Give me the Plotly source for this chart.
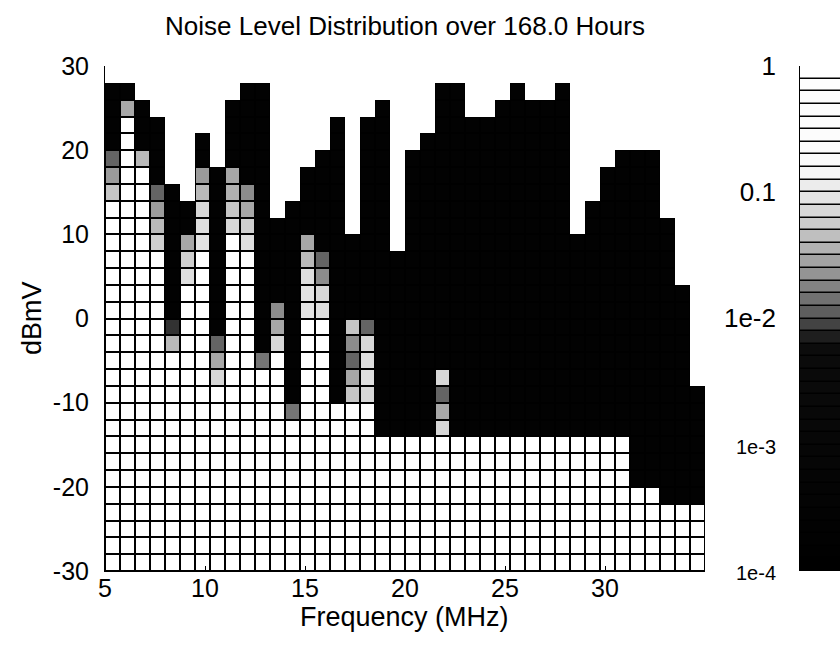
import numpy as np
import plotly.graph_objects as go

# Bins: 0.75 MHz frequency bins from 5 MHz, 2 dB level bins from -30 dBmV
freq_start, freq_step, n_freq = 5.0, 0.75, 40
level_start, level_step, n_level = -30, 2, 30

# Upper edge (dBmV) of the highest level bin observed in each frequency bin
top_db = [28, 28, 26, 24, 16, 14, 22, 18, 26, 28,
          28, 12, 14, 18, 20, 24, 10, 24, 26, 8,
          20, 22, 28, 28, 24, 24, 26, 28, 26, 26,
          28, 10, 14, 18, 20, 20, 20, 12, 4, -8]

# Level (dBmV) down to which the exceedance probability stays rare
floor_db = [20, 26, 20, 16, 0, 10, 18, -2, 18, 16,
            -4, 2, -10, 10, 8, -10, 0, 0, -14, -14,
            -14, -14, -6, -14, -14, -14, -14, -14, -14, -14,
            -14, -14, -14, -14, -14, -20, -20, -22, -22, -22]

# Exceedance probability of the transition bins just below each floor (top to bottom)
transition = [
    [0.012, 0.025, 0.05], [0.03], [0.04], [0.012, 0.025, 0.04, 0.06],
    [0.008, 0.04], [0.03, 0.06, 0.08], [0.025, 0.04, 0.07, 0.08, 0.09],
    [0.012, 0.03, 0.07], [0.03, 0.035, 0.05, 0.07], [0.02, 0.03, 0.06, 0.08],
    [0.015], [0.02, 0.03, 0.07], [0.015], [0.03, 0.04, 0.08, 0.09, 0.09],
    [0.012, 0.02, 0.07, 0.08], [], [0.05, 0.02, 0.012, 0.03, 0.05],
    [0.012, 0.07, 0.08, 0.08, 0.07], [], [], [], [], [0.07, 0.012, 0.03, 0.07],
    [], [], [], [], [], [], [], [], [], [], [], [], [], [], [], [], [],
]
rare_prob = 2e-4     # bins between the floor and the top
common_prob = 1.0    # bins below the transition

# Axis ticks
freq_ticks = [5, 10, 15, 20, 25, 30]
level_ticks = [-30, -20, -10, 0, 10, 20, 30]

# Colour-bar bands (log10 probability), ten per decade
cbar_decades = [-4, -3, -2, -1, 0]
cbar_labels = ["1e-4", "1e-3", "1e-2", "0.1", "1"]
cbar_label_sizes = [20, 20, 26, 26, 26]
bands_per_decade = 10

# Grey ramp: black up to ~6e-3, light above ~0.15
gray_ramp = [
    (0.00, "rgb(0,0,0)"),
    (0.45, "rgb(12,12,12)"),
    (0.50, "rgb(85,85,85)"),
    (0.575, "rgb(140,140,140)"),
    (0.65, "rgb(185,185,185)"),
    (0.725, "rgb(222,222,222)"),
    (0.80, "rgb(250,250,250)"),
    (1.00, "rgb(255,255,255)"),
]

freq_edges = freq_start + freq_step * np.arange(n_freq + 1)
level_edges = level_start + level_step * np.arange(n_level + 1)

z = np.full((n_level, n_freq), np.nan)
for c in range(n_freq):
    for r in range(n_level):
        upper = level_edges[r + 1]
        if upper > top_db[c]:
            continue
        if upper > floor_db[c]:
            p = rare_prob
        else:
            k = int(round((floor_db[c] - upper) / level_step))
            p = transition[c][k] if k < len(transition[c]) else common_prob
        z[r, c] = np.log10(p)

under = np.where(np.isnan(z), np.nan, 0.0)
black = [[0, "black"], [1, "black"]]

band_edges = np.linspace(cbar_decades[0], cbar_decades[-1],
                         bands_per_decade * (len(cbar_decades) - 1) + 1)
band_mid = (band_edges[:-1] + band_edges[1:]) / 2

font = "Liberation Sans, Arial, sans-serif"

fig = go.Figure()
# black layer under the cells shows through the gaps as cell edges
fig.add_trace(go.Heatmap(x=freq_edges, y=level_edges, z=under, colorscale=black,
                         showscale=False, hoverinfo="skip"))
fig.add_trace(go.Heatmap(x=freq_edges, y=level_edges, z=z, colorscale=gray_ramp,
                         zmin=-4, zmax=0, xgap=2, ygap=2, showscale=False))

# colour bar drawn as its own narrow axis
fig.add_trace(go.Heatmap(x=[0, 1], y=band_edges, z=np.zeros((len(band_mid), 1)),
                         colorscale=black, showscale=False, hoverinfo="skip",
                         xaxis="x2", yaxis="y2"))
fig.add_trace(go.Heatmap(x=[0, 1], y=band_edges, z=band_mid.reshape(-1, 1),
                         colorscale=gray_ramp, zmin=-4, zmax=0, ygap=1.5,
                         showscale=False, xaxis="x2", yaxis="y2"))

cbar_ticktext = [f'<span style="font-size:{s}px">{t}</span>'
                 for t, s in zip(cbar_labels, cbar_label_sizes)]

fig.update_layout(
    width=840, height=655,
    margin=dict(l=105, r=0, t=66, b=84),
    paper_bgcolor="white", plot_bgcolor="white",
    font=dict(family=font, size=25, color="black"),
    showlegend=False,
    title=dict(text="Noise Level Distribution over 168.0 Hours",
               x=405 / 840, xanchor="center", xref="container",
               y=1 - 26 / 655, yanchor="middle", yref="container",
               font=dict(size=26)),
    xaxis=dict(domain=[0, 600 / 735], range=[5, 35],
               tickvals=freq_ticks, ticktext=[str(v) for v in freq_ticks],
               ticks="inside", ticklen=5,
               tickcolor="black", showline=True, linecolor="black", linewidth=1,
               showgrid=False, zeroline=False, tickfont=dict(size=25),
               ticklabelstandoff=-5),
    yaxis=dict(range=[-30, 30], tickvals=level_ticks,
               ticktext=[str(v) for v in level_ticks],
               ticks="inside", ticklen=5, tickcolor="black", showline=True,
               linecolor="black", linewidth=1, showgrid=False, zeroline=False,
               tickfont=dict(size=25), ticklabelstandoff=10),
    xaxis2=dict(domain=[695 / 735, 1], range=[0, 1], visible=False),
    yaxis2=dict(anchor="x2", range=[-4, 0], tickvals=cbar_decades,
                ticktext=cbar_ticktext, ticks="", showline=True, linecolor="black",
                linewidth=1, showgrid=False, zeroline=False,
                ticklabelstandoff=18),
    annotations=[
        dict(text="Frequency (MHz)", x=0.408, y=-0.092, xref="paper", yref="paper",
             xanchor="center", yanchor="middle", showarrow=False,
             font=dict(size=27)),
        dict(text="dBmV", x=-0.1, y=0.5, xref="paper", yref="paper",
             xanchor="center", yanchor="middle", textangle=-90, showarrow=False,
             font=dict(size=27)),
    ],
)

fig.write_html("out.html")
